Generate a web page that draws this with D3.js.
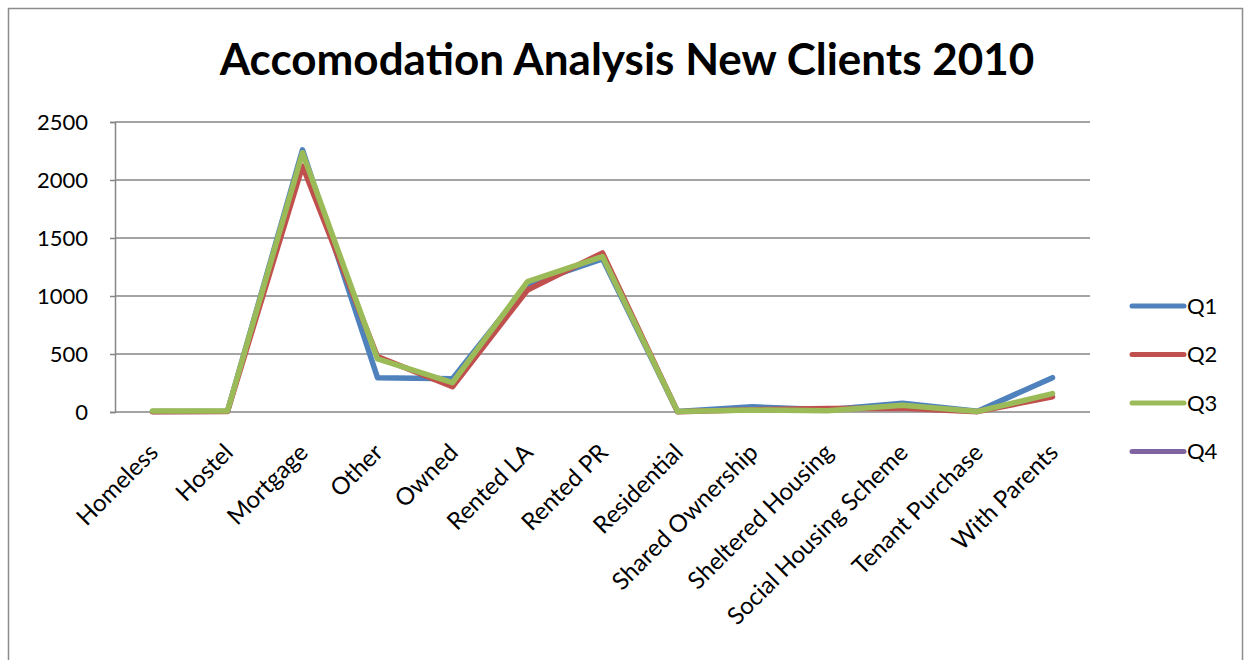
<!DOCTYPE html>
<html>
<head>
<meta charset="utf-8">
<script src="https://cdn.jsdelivr.net/npm/d3@7"></script>
<style>
	html, body { margin: 0; padding: 0; background: #fff; }
	svg { display: block; font-family: Lato, "Open Sans", sans-serif; }
</style>
</head>
<body>
<div id="chart"></div>
<script>
var categories = [
	"Homeless", "Hostel", "Mortgage", "Other", "Owned", "Rented LA", "Rented PR",
	"Residential", "Shared Ownership", "Sheltered Housing", "Social Housing Scheme",
	"Tenant Purchase", "With Parents",
];
var q1 = [5, 6, 2260, 296, 287, 1100, 1320, 4, 45, 20, 75, 6, 296];
var q2 = [2, 4, 2120, 477, 218, 1052, 1372, 3, 20, 30, 32, 3, 132];
var q3 = [8, 8, 2235, 457, 253, 1123, 1340, 5, 17, 11, 58, 5, 158];
var q4 = []; // no values in the source, only in the legend
var seriesNames = ["Q1", "Q2", "Q3", "Q4"];
var seriesColors = ["#4F81BD", "#C0504D", "#9BBB59", "#8064A2"];
var yTicks = [0, 500, 1000, 1500, 2000, 2500];

document.addEventListener("DOMContentLoaded", function (e) {
	var width = 1247,
		height = 660;
	var plot = { left: 115, right: 1090, top: 122, bottom: 412 };

	var svg = d3
		.select("#chart")
		.append("svg")
		.attr("width", width)
		.attr("height", height);

	// chart frame
	svg.append("rect")
		.attr("x", 8.5)
		.attr("y", 8.5)
		.attr("width", 1234)
		.attr("height", 700)
		.attr("fill", "none")
		.attr("stroke", "#8c8c8c")
		.attr("stroke-width", 1.5);

	svg.append("text")
		.attr("x", 627)
		.attr("y", 75)
		.attr("text-anchor", "middle")
		.attr("font-size", 44)
		.attr("font-weight", "bold")
		.text("Accomodation Analysis New Clients 2010");

	var x = d3
		.scalePoint()
		.domain(categories)
		.range([plot.left, plot.right])
		.padding(0.5);

	var y = d3
		.scaleLinear()
		.domain([0, 2500])
		.range([plot.bottom, plot.top]);

	// gridlines
	svg.append("g")
		.selectAll("line")
		.data(yTicks)
		.enter()
		.append("line")
		.attr("x1", plot.left)
		.attr("x2", plot.right)
		.attr("y1", function (d) {
			return y(d);
		})
		.attr("y2", function (d) {
			return y(d);
		})
		.attr("stroke", "#868686")
		.attr("stroke-width", 1.5);

	var yAxis = svg
		.append("g")
		.attr("transform", "translate(" + plot.left + ",0)")
		.call(
			d3.axisLeft(y)
				.tickValues(yTicks)
				.tickFormat(d3.format("d"))
				.tickSize(5)
				.tickPadding(22)
		);
	yAxis.select(".domain").attr("stroke", "#868686").attr("stroke-width", 1.5);
	yAxis.selectAll(".tick line").attr("stroke", "#868686").attr("stroke-width", 1.5);
	yAxis.selectAll("text")
		.attr("font-family", "Lato, sans-serif")
		.attr("font-size", 22)
		.attr("fill", "#000");

	var xAxis = svg.append("g").attr("transform", "translate(0," + plot.bottom + ")");
	xAxis.selectAll("text")
		.data(categories)
		.enter()
		.append("text")
		.attr("transform", function (d) {
			return "translate(" + (x(d) + 7) + ",42) rotate(-45)";
		})
		.attr("text-anchor", "end")
		.attr("font-size", 24)
		.text(function (d) {
			return d;
		});

	var line = d3
		.line()
		.defined(function (d) {
			return d != null;
		})
		.x(function (d, i) {
			return x(categories[i]);
		})
		.y(function (d) {
			return y(d);
		});

	var allSeries = [q1, q2, q3, q4];
	for (var i = 0; i < allSeries.length; i++) {
		if (allSeries[i].length === 0) continue;
		svg.append("path")
			.datum(allSeries[i])
			.attr("fill", "none")
			.attr("stroke", seriesColors[i])
			.attr("stroke-width", 5.5)
			.attr("stroke-linejoin", "round")
			.attr("stroke-linecap", "round")
			.attr("d", line);
	}

	// legend
	var legend = svg
		.append("g")
		.selectAll("g")
		.data(seriesNames)
		.enter()
		.append("g")
		.attr("transform", function (d, i) {
			return "translate(1130," + (306 + i * 48.5) + ")";
		});
	legend.append("line")
		.attr("x1", 2)
		.attr("x2", 54)
		.attr("stroke", function (d, i) {
			return seriesColors[i];
		})
		.attr("stroke-width", 5)
		.attr("stroke-linecap", "round");
	legend.append("text")
		.attr("x", 57)
		.attr("dy", "0.36em")
		.attr("font-size", 22)
		.text(function (d) {
			return d;
		});
});
</script>
</body>
</html>
